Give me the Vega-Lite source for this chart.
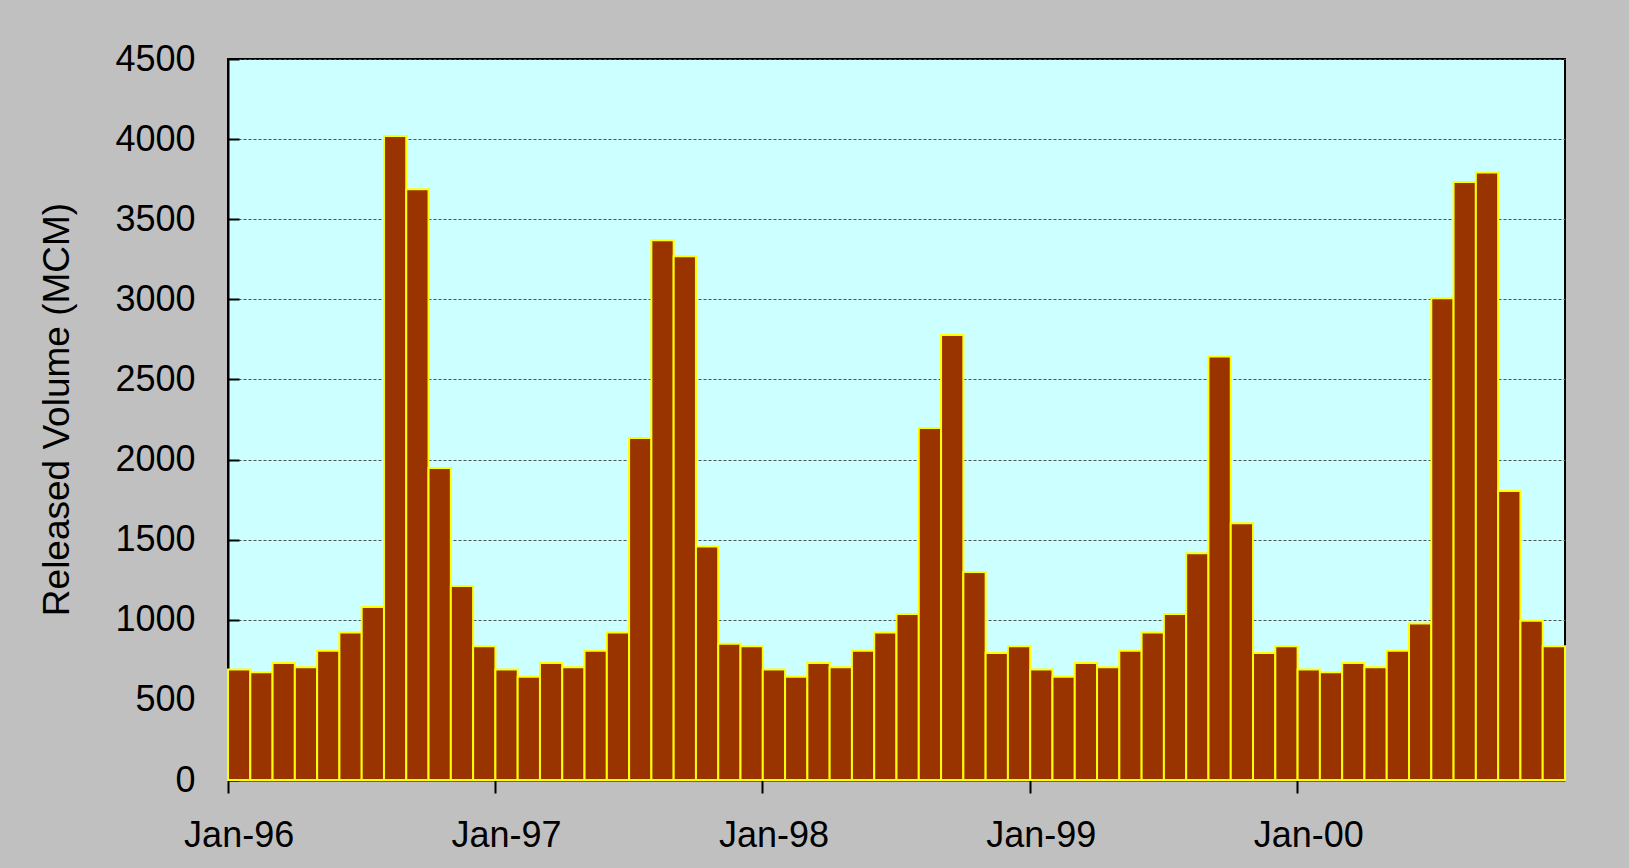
{
  "$schema": "https://vega.github.io/schema/vega-lite/v6.json",
  "width": 1337,
  "height": 721,
  "autosize": {"type": "none"},
  "padding": {"left": 228, "top": 59, "right": 64, "bottom": 88},
  "background": "#C0C0C0",
  "config": {
    "font": "Liberation Sans",
    "view": {"fill": "#CCFFFF", "stroke": "#000000", "strokeWidth": 2}
  },
  "data": {
    "values": [
      {"month": "1996-01", "volume": 689}, {"month": "1996-02", "volume": 673}, {"month": "1996-03", "volume": 731}, {"month": "1996-04", "volume": 703},
      {"month": "1996-05", "volume": 807}, {"month": "1996-06", "volume": 921}, {"month": "1996-07", "volume": 1080}, {"month": "1996-08", "volume": 4020},
      {"month": "1996-09", "volume": 3687}, {"month": "1996-10", "volume": 1948}, {"month": "1996-11", "volume": 1211}, {"month": "1996-12", "volume": 835},
      {"month": "1997-01", "volume": 689}, {"month": "1997-02", "volume": 645}, {"month": "1997-03", "volume": 731}, {"month": "1997-04", "volume": 703},
      {"month": "1997-05", "volume": 807}, {"month": "1997-06", "volume": 921}, {"month": "1997-07", "volume": 2135}, {"month": "1997-08", "volume": 3369},
      {"month": "1997-09", "volume": 3269}, {"month": "1997-10", "volume": 1457}, {"month": "1997-11", "volume": 851}, {"month": "1997-12", "volume": 835},
      {"month": "1998-01", "volume": 689}, {"month": "1998-02", "volume": 645}, {"month": "1998-03", "volume": 731}, {"month": "1998-04", "volume": 703},
      {"month": "1998-05", "volume": 807}, {"month": "1998-06", "volume": 921}, {"month": "1998-07", "volume": 1036}, {"month": "1998-08", "volume": 2197},
      {"month": "1998-09", "volume": 2777}, {"month": "1998-10", "volume": 1298}, {"month": "1998-11", "volume": 793}, {"month": "1998-12", "volume": 835},
      {"month": "1999-01", "volume": 689}, {"month": "1999-02", "volume": 645}, {"month": "1999-03", "volume": 731}, {"month": "1999-04", "volume": 703},
      {"month": "1999-05", "volume": 807}, {"month": "1999-06", "volume": 921}, {"month": "1999-07", "volume": 1036}, {"month": "1999-08", "volume": 1415},
      {"month": "1999-09", "volume": 2643}, {"month": "1999-10", "volume": 1602}, {"month": "1999-11", "volume": 793}, {"month": "1999-12", "volume": 835},
      {"month": "2000-01", "volume": 689}, {"month": "2000-02", "volume": 673}, {"month": "2000-03", "volume": 731}, {"month": "2000-04", "volume": 703},
      {"month": "2000-05", "volume": 807}, {"month": "2000-06", "volume": 977}, {"month": "2000-07", "volume": 3006}, {"month": "2000-08", "volume": 3732},
      {"month": "2000-09", "volume": 3791}, {"month": "2000-10", "volume": 1803}, {"month": "2000-11", "volume": 994}, {"month": "2000-12", "volume": 835}
    ]
  },
  "mark": {"type": "bar", "fill": "#993300", "stroke": "#FFFF00", "strokeWidth": 2},
  "encoding": {
    "x": {
      "field": "month",
      "type": "ordinal",
      "sort": null,
      "scale": {"paddingInner": 0, "paddingOuter": 0},
      "axis": {
        "title": null,
        "values": ["1996-01", "1997-01", "1998-01", "1999-01", "2000-01"],
        "bandPosition": 0,
        "labelExpr": "'Jan-' + substring(datum.value, 2, 4)",
        "labelAngle": 0,
        "labelAlign": "center",
        "labelOffset": 0,
        "labelFontSize": 36,
        "labelColor": "#000000",
        "labelPadding": 25,
        "labelBaseline": "top",
        "tickSize": 13,
        "tickWidth": 2,
        "tickColor": "#000000",
        "domainColor": "#000000",
        "domainWidth": 2,
        "grid": false
      }
    },
    "y": {
      "field": "volume",
      "type": "quantitative",
      "scale": {"domain": [0, 4500], "nice": false},
      "axis": {
        "title": "Released Volume (MCM)",
        "titleFontSize": 37,
        "titleFontWeight": "normal",
        "titleColor": "#000000",
        "titleAngle": -90,
        "titleAlign": "center",
        "titleBaseline": "alphabetic",
        "titleX": -160,
        "titleY": 350,
        "values": [0, 500, 1000, 1500, 2000, 2500, 3000, 3500, 4000, 4500],
        "format": "d",
        "labelFontSize": 36,
        "labelColor": "#000000",
        "labelPadding": 44,
        "labelBaseline": "middle",
        "tickSize": -11,
        "tickWidth": 2,
        "tickColor": "#000000",
        "domainColor": "#000000",
        "domainWidth": 2,
        "grid": true,
        "gridColor": "#505050",
        "gridWidth": 1,
        "gridDash": [3, 2],
        "gridOpacity": 1
      }
    }
  }
}
